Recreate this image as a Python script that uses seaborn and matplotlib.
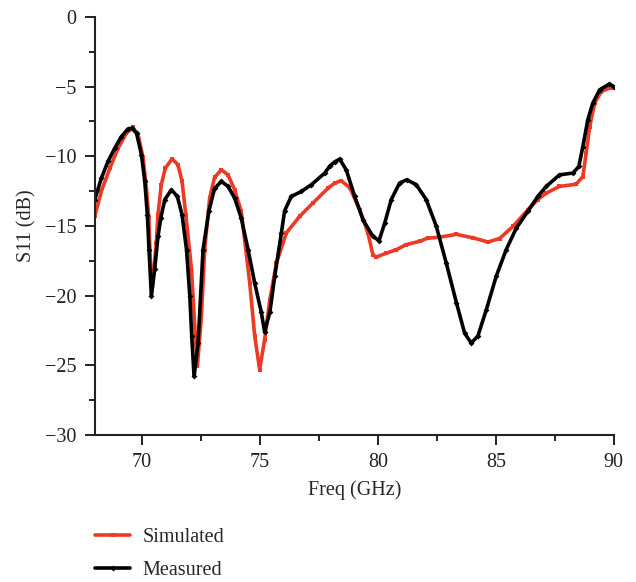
import matplotlib
matplotlib.use("Agg")
import matplotlib.pyplot as plt
import seaborn as sns
import pandas as pd
from matplotlib.ticker import MultipleLocator

# ---- data ----
sim_freq = [68.0, 68.28, 68.64, 68.99, 69.34, 69.62, 69.84, 70.05, 70.19, 70.29,
            70.37, 70.44, 70.61, 70.68, 70.82, 70.99, 71.28, 71.53, 71.7, 71.86,
            72.1, 72.28, 72.35, 72.52, 72.66, 72.87, 73.08, 73.37, 73.65, 73.93,
            74.21, 74.57, 74.78, 74.99, 75.2, 75.42, 75.7, 76.12, 76.69, 77.25,
            77.89, 78.17, 78.45, 78.81, 79.23, 79.58, 79.79, 79.93, 80.36, 80.78,
            81.2, 81.77, 82.12, 82.62, 83.33, 84.03, 84.67, 85.16, 85.73, 86.36,
            86.78, 87.14, 87.7, 88.41, 88.69, 88.83, 88.98, 89.19, 89.47, 89.82,
            90.0]
sim_s11 = [-14.3, -12.5, -10.85, -9.41, -8.34, -7.93, -8.46, -10.13, -12.28, -14.4,
           -18.1, -19.3, -16.2, -14.2, -12.04, -10.85, -10.18, -10.61, -11.8, -14.2,
           -18.1, -23.4, -25.07, -21.5, -16.7, -13.0, -11.5, -10.97, -11.33, -12.4,
           -13.95, -19.1, -22.9, -25.3, -23.15, -20.3, -17.66, -15.5, -14.3, -13.35,
           -12.28, -11.92, -11.75, -12.25, -13.83, -15.5, -17.06, -17.23, -16.95, -16.7,
           -16.34, -16.1, -15.87, -15.8, -15.6, -15.85, -16.15, -15.9, -15.03, -13.83,
           -13.1, -12.64, -12.16, -12.0, -11.45, -9.77, -7.86, -6.19, -5.35, -5.1,
           -5.1]

meas_freq = [68.0, 68.28, 68.56, 68.85, 69.13, 69.41, 69.58, 69.77, 69.98, 70.12,
             70.23, 70.3, 70.4, 70.54, 70.68, 70.8, 70.97, 71.25, 71.5, 71.7,
             71.89, 72.03, 72.11, 72.21, 72.38, 72.59, 72.84, 73.08, 73.37, 73.65,
             73.93, 74.21, 74.5, 74.78, 75.06, 75.2, 75.42, 75.63, 75.91, 76.05,
             76.33, 76.76, 77.18, 77.75, 77.96, 78.17, 78.38, 78.66, 79.02, 79.37,
             79.79, 80.05, 80.29, 80.57, 80.92, 81.23, 81.63, 82.05, 82.48, 82.9,
             83.33, 83.68, 83.96, 84.24, 84.6, 85.02, 85.44, 85.87, 86.36, 86.78,
             87.14, 87.7, 88.27, 88.52, 88.69, 88.9, 89.11, 89.4, 89.82, 90.0]
meas_s11 = [-13.1, -11.57, -10.37, -9.41, -8.58, -8.03, -7.98, -8.34, -9.89, -11.8,
            -14.2, -16.7, -20.05, -18.1, -15.75, -14.4, -13.1, -12.4, -12.88, -14.2,
            -16.7, -20.05, -22.9, -25.8, -23.4, -16.7, -13.9, -12.3, -11.8, -12.16,
            -13.0, -14.43, -16.7, -19.1, -21.2, -22.6, -21.2, -18.6, -15.5, -13.9,
            -12.88, -12.52, -12.04, -11.2, -10.7, -10.4, -10.2, -10.97, -12.88, -14.55,
            -15.75, -16.05, -14.8, -13.1, -11.92, -11.68, -12.04, -13.1, -15.03, -17.66,
            -20.5, -22.7, -23.4, -22.9, -21.0, -18.6, -16.7, -15.15, -13.95, -12.88,
            -12.16, -11.33, -11.2, -10.73, -9.3, -7.38, -6.19, -5.23, -4.8, -5.0]

series_names = ["Simulated", "Measured"]
x_ticks = [70, 75, 80, 85, 90]
y_ticks = [0, -5, -10, -15, -20, -25, -30]

sim_df = pd.DataFrame({"Freq": sim_freq, "S11": sim_s11})
meas_df = pd.DataFrame({"Freq": meas_freq, "S11": meas_s11})

sns.set_theme(style="ticks")
plt.rcParams["font.family"] = ["Liberation Serif", "DejaVu Serif"]
plt.rcParams["axes.unicode_minus"] = True

fig = plt.figure(figsize=(6.36, 5.82), dpi=100)
ax = fig.add_axes([0.149, 0.2526, 0.816, 0.7182])

red = "#EE3A24"
sns.lineplot(data=sim_df, x="Freq", y="S11", ax=ax, color=red, lw=2.6,
             marker="s", markersize=3.2, markeredgewidth=0, sort=False,
             label=series_names[0], legend=False)
sns.lineplot(data=meas_df, x="Freq", y="S11", ax=ax, color="black", lw=2.6,
             marker="D", markersize=3.0, markeredgewidth=0, sort=False,
             label=series_names[1], legend=False)

ax.set_xlim(68, 90)
ax.set_ylim(-30, 0)
ax.set_xticks(x_ticks)
ax.set_yticks(y_ticks)
ax.xaxis.set_minor_locator(MultipleLocator(2.5))
ax.yaxis.set_minor_locator(MultipleLocator(2.5))
ax.tick_params(which="major", direction="out", length=7, width=1.4,
               labelsize=14.5, colors="#222222", pad=6)
ax.tick_params(which="minor", direction="out", length=4, width=1.4, colors="#222222")
for s in ["top", "right"]:
    ax.spines[s].set_visible(False)
for s in ["left", "bottom"]:
    ax.spines[s].set_linewidth(1.5)
    ax.spines[s].set_color("#222222")

ax.set_xlabel("Freq (GHz)", fontsize=14.5, labelpad=6)
ax.set_ylabel("S11 (dB)", fontsize=14.5, labelpad=6)

handles, labels = ax.get_legend_handles_labels()
fig.legend(handles, labels, loc="upper left", bbox_to_anchor=(0.137, 0.107),
           frameon=False, fontsize=14.5, handlelength=1.75, handletextpad=0.6,
           labelspacing=0.68, borderaxespad=0)

fig.savefig("out.png", dpi=100)
